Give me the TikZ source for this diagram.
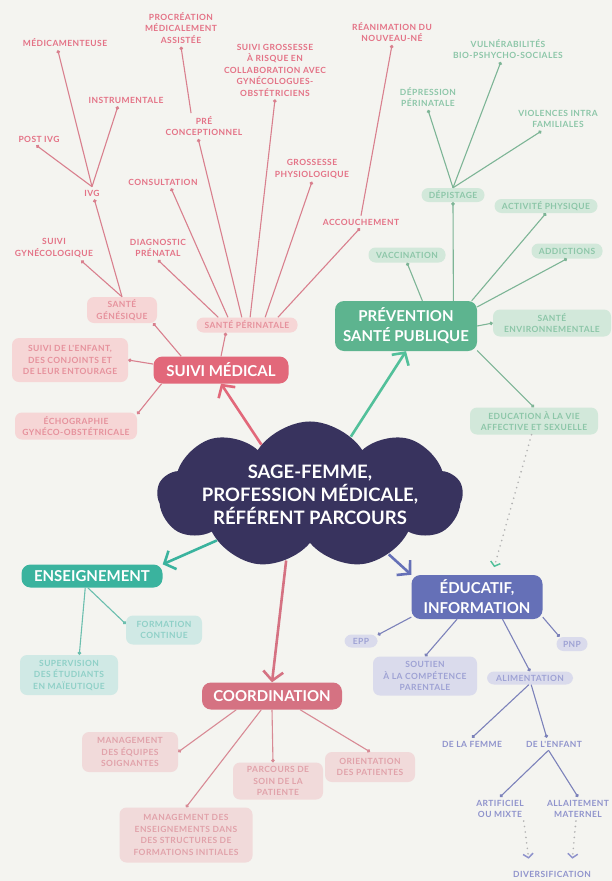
\documentclass[tikz,border=0pt]{standalone}
\usepackage{fontspec}
\setmainfont{Lato}
\newfontfamily\labelfont{Lato}[LetterSpace=5]
\usetikzlibrary{shapes.symbols, arrows.meta}

\definecolor{fond}{HTML}{F4F4F0}
\definecolor{navy}{HTML}{38335E}
\definecolor{rose}{HTML}{E2687A}
\definecolor{roselight}{HTML}{F6D6D6}
\definecolor{rosetext}{HTML}{E6919C}
\definecolor{roselabel}{HTML}{E47286}
\definecolor{roseline}{HTML}{D9808E}
\definecolor{vert}{HTML}{5DB48F}
\definecolor{vertarrow}{HTML}{52C09A}
\definecolor{vertlight}{HTML}{D2E8DA}
\definecolor{verttext}{HTML}{8CC6A8}
\definecolor{vertline}{HTML}{7DB596}
\definecolor{sarcelle}{HTML}{3AB39E}
\definecolor{sarcellelight}{HTML}{D0E9E5}
\definecolor{sarcelletext}{HTML}{8FD0C7}
\definecolor{sarcelleline}{HTML}{6CBFAF}
\definecolor{indigo}{HTML}{6570B7}
\definecolor{indigolight}{HTML}{DADBEC}
\definecolor{indigotext}{HTML}{9EA2D4}
\definecolor{indigolabel}{HTML}{8F93CC}
\definecolor{indigoline}{HTML}{7C82BA}
\definecolor{coordfill}{HTML}{D57282}
\definecolor{coordlight}{HTML}{F1DADA}
\definecolor{coordtext}{HTML}{E1A2AA}
\definecolor{coordline}{HTML}{D88A95}

\begin{document}
\begin{tikzpicture}[x=1pt, y=-1pt]
  \tikzset{
    main_node/.style={rounded corners=9pt, text=white, font=\bfseries\fontsize{15}{20}\selectfont, align=center, inner sep=0pt},
    leaf_box/.style={rounded corners=7pt, font=\labelfont\bfseries\fontsize{8.5}{11.5}\selectfont, align=center, inner sep=0pt},
    leaf_label/.style={font=\labelfont\bfseries\fontsize{8.5}{11.5}\selectfont, align=center, inner sep=3pt},
    pink_main/.style={main_node, fill=rose},
    pink_box/.style={leaf_box, fill=roselight, text=rosetext},
    pink_label/.style={leaf_label, text=roselabel},
    pink_link/.style={draw=roseline, line width=1.1pt, -{Circle[length=3.5pt]}},
    green_main/.style={main_node, fill=vert},
    green_box/.style={leaf_box, fill=vertlight, text=verttext},
    green_label/.style={leaf_label, text=verttext},
    green_link/.style={draw=vertline, line width=1.1pt, -{Circle[length=3.5pt]}},
    teal_main/.style={main_node, fill=sarcelle},
    teal_box/.style={leaf_box, fill=sarcellelight, text=sarcelletext},
    teal_link/.style={draw=sarcelleline, line width=1.1pt, -{Circle[length=3.5pt]}},
    indigo_main/.style={main_node, fill=indigo},
    indigo_box/.style={leaf_box, fill=indigolight, text=indigotext},
    indigo_label/.style={leaf_label, text=indigolabel},
    indigo_link/.style={draw=indigoline, line width=1.1pt, -{Circle[length=3.5pt]}},
    coord_main/.style={main_node, fill=coordfill},
    coord_box/.style={leaf_box, fill=coordlight, text=coordtext},
    coord_link/.style={draw=coordline, line width=1.1pt, -{Circle[length=3.5pt]}},
    big_arrow/.style={line width=2.6pt, -{Straight Barb[length=9pt, width=20pt]}},
    dot_arrow/.style={draw=gray!60, line width=1.8pt, line cap=round, dash pattern=on 0pt off 5.5pt}
  }

  % Fond et cadre
  \useasboundingbox (0,0) rectangle (612,881);
  \fill[fond] (0,0) rectangle (612,881);

  % Nuage central
  \node[cloud, cloud puffs=9, cloud puff arc=115, aspect=3.2, fill=navy, text=white, inner sep=0pt,
        font=\bfseries\fontsize{18.5}{23}\selectfont, align=center] (core) at (310,495)
        {SAGE-FEMME,\\PROFESSION MÉDICALE,\\RÉFÉRENT PARCOURS};

  % Suivi médical
  \node[pink_main, minimum width=135, minimum height=27] (smed) at (221,370) {SUIVI MÉDICAL};
  \node[pink_box, minimum width=101, minimum height=15] (sperin) at (247,325) {SANTÉ PÉRINATALE};
  \node[pink_box, minimum width=70, minimum height=26] (sgenes) at (122,310) {SANTÉ\\GÉNÉSIQUE};
  \node[pink_box, minimum width=116, minimum height=44] (senfant) at (70,360) {SUIVI DE L'ENFANT,\\DES CONJOINTS ET\\DE LEUR ENTOURAGE};
  \node[pink_box, minimum width=122, minimum height=27] (echo) at (76,426) {ÉCHOGRAPHIE\\GYNÉCO-OBSTÉTRICALE};

  \node[pink_label] (sgyn) at (54,248) {SUIVI\\GYNÉCOLOGIQUE};
  \node[pink_label] (ivg) at (92,193) {IVG};
  \node[pink_label] (medic) at (65,43) {MÉDICAMENTEUSE};
  \node[pink_label] (instr) at (126,100) {INSTRUMENTALE};
  \node[pink_label] (postivg) at (39,139) {POST IVG};
  \node[pink_label] (diag) at (158,248) {DIAGNOSTIC\\PRÉNATAL};
  \node[pink_label] (consult) at (163,182) {CONSULTATION};
  \node[pink_label] (precon) at (204,126) {PRÉ\\CONCEPTIONNEL};
  \node[pink_label] (pma) at (181,28) {PROCRÉATION\\MÉDICALEMENT\\ASSISTÉE};
  \node[pink_label] (grisque) at (275,70) {SUIVI GROSSESSE\\À RISQUE EN\\COLLABORATION AVEC\\GYNÉCOLOGUES-\\OBSTÉTRICIENS};
  \node[pink_label] (gphysio) at (312,169) {GROSSESSE\\PHYSIOLOGIQUE};
  \node[pink_label] (accouch) at (361,222) {ACCOUCHEMENT};
  \node[pink_label] (reanim) at (392,32) {RÉANIMATION DU\\NOUVEAU-NÉ};

  \draw[big_arrow, rose] (core.134) -- (smed.south);
  \draw[pink_link] (smed.north) -- (sperin.200);
  \draw[pink_link] (smed.161) -- (sgenes.-23);
  \draw[pink_link] (smed.175) -- (senfant.east);
  \draw[pink_link] (smed.193) -- (echo.11);
  \draw[pink_link] (sgenes.north) -- (sgyn.-25);
  \draw[pink_link] (sgenes.north) -- (ivg.-70);
  \draw[pink_link] (ivg.north) -- (medic.-135);
  \draw[pink_link] (ivg.north) -- (instr.-142);
  \draw[pink_link] (ivg.north) -- (postivg.-113);
  \draw[pink_link] (sperin.165) -- (diag.south);
  \draw[pink_link] (sperin.158) -- (consult.-38);
  \draw[pink_link] (sperin.124) -- (precon.-114);
  \draw[pink_link] (precon.135) -- (pma.south);
  \draw[pink_link] (sperin.68) -- (grisque.south);
  \draw[pink_link] (sperin.23) -- (gphysio.south);
  \draw[pink_link] (sperin.14) -- (accouch.-100);
  \draw[pink_link] (accouch.north) -- (reanim.south);

  % Prévention santé publique
  \node[green_main, minimum width=142, minimum height=50] (prev) at (406,326) {PRÉVENTION\\SANTÉ PUBLIQUE};
  \node[green_box, minimum width=63, minimum height=14] (depist) at (453,195) {DÉPISTAGE};
  \node[green_label] (depress) at (428,97) {DÉPRESSION\\PÉRINATALE};
  \node[green_label] (vulner) at (508,49) {VULNÉRABILITÉS\\BIO-PSHYCHO-SOCIALES};
  \node[green_label] (violence) at (558,119) {VIOLENCES INTRA\\FAMILIALES};
  \node[green_box, minimum width=103, minimum height=14] (activ) at (546,206) {ACTIVITÉ PHYSIQUE};
  \node[green_box, minimum width=71, minimum height=15] (addict) at (567,251) {ADDICTIONS};
  \node[green_box, minimum width=77, minimum height=15] (vacc) at (407,255) {VACCINATION};
  \node[green_box, minimum width=118, minimum height=27] (senv) at (552,323) {SANTÉ\\ENVIRONNEMENTALE};
  \node[green_box, minimum width=128, minimum height=27] (eduvie) at (534,421) {EDUCATION À LA VIE\\AFFECTIVE ET SEXUELLE};

  \draw[big_arrow, vertarrow] (core.55) -- (prev.south);
  \draw[green_link] (prev.28) -- (depist.south);
  \draw[green_link] (depist.north) -- (depress.south);
  \draw[green_link] (depist.north) -- (vulner.-119);
  \draw[green_link] (depist.north) -- (violence.-144);
  \draw[green_link] (prev.21) -- (activ.south);
  \draw[green_link] (prev.15) -- (addict.south);
  \draw[green_link] (prev.57) -- (vacc.south);
  \draw[green_link] (prev.east) -- (senv.west);
  \draw[green_link] (prev.-19) -- (eduvie.north);

  % Enseignement
  \node[teal_main, minimum width=141, minimum height=23] (ens) at (92,576) {ENSEIGNEMENT};
  \node[teal_box, minimum width=76, minimum height=29] (form) at (164,630) {FORMATION\\CONTINUE};
  \node[teal_box, minimum width=98, minimum height=40] (superv) at (69,675) {SUPERVISION\\DES ÉTUDIANTS\\EN MAÏEUTIQUE};

  \draw[big_arrow, sarcelle] (core.206) -- (ens.north east);
  \draw[teal_link] (ens.-110) -- (form.171);
  \draw[teal_link] (ens.-120) -- (superv.63);

  % Éducatif, information
  \node[indigo_main, minimum width=131, minimum height=44] (educ) at (477,597) {ÉDUCATIF,\\INFORMATION};
  \node[indigo_box, minimum width=33, minimum height=13] (epp) at (361,641) {EPP};
  \node[indigo_box, minimum width=31, minimum height=14] (pnp) at (572,644) {PNP};
  \node[indigo_box, minimum width=104, minimum height=39] (soutien) at (425,676) {SOUTIEN\\À LA COMPÉTENCE\\PARENTALE};
  \node[indigo_box, minimum width=86, minimum height=13] (alim) at (530,678) {ALIMENTATION};
  \node[indigo_label] (femme) at (472,744) {DE LA FEMME};
  \node[indigo_label] (enfant) at (554,744) {DE L'ENFANT};
  \node[indigo_label] (artif) at (500,809) {ARTIFICIEL\\OU MIXTE};
  \node[indigo_label] (allait) at (578,809) {ALLAITEMENT\\MATERNEL};
  \node[indigo_label] (divers) at (552,874) {DIVERSIFICATION};

  \draw[dot_arrow, -{Straight Barb[length=4pt, width=10pt, color=vertarrow, line width=1.5pt]}, shorten >=8pt]
    (eduvie.-100) -- (educ.56);
  \draw[big_arrow, indigo] (core.-37) -- (educ.north west);
  \draw[indigo_link] (educ.197) -- (epp.20);
  \draw[indigo_link] (educ.-17) -- (pnp.150);
  \draw[indigo_link] (educ.-132) -- (soutien.north);
  \draw[indigo_link] (educ.-41) -- (alim.north);
  \draw[indigo_link] (alim.-100) -- (femme.north);
  \draw[indigo_link] (alim.-80) -- (enfant.139);
  \draw[indigo_link] (enfant.-131) -- (artif.north);
  \draw[indigo_link] (enfant.-131) -- (allait.north);
  \draw[dot_arrow, -{Straight Barb[length=4pt, width=10pt, color=indigolabel, line width=1.5pt]}, shorten >=9pt]
    (artif.-27) -- (divers.164);
  \draw[dot_arrow, -{Straight Barb[length=4pt, width=10pt, color=indigolabel, line width=1.5pt]}, shorten >=9pt]
    (allait.-100) -- (divers.18);

  % Coordination
  \node[coord_main, minimum width=140, minimum height=27] (coord) at (272,696) {COORDINATION};
  \node[coord_box, minimum width=96, minimum height=40] (mgeq) at (130,752) {MANAGEMENT\\DES ÉQUIPES\\SOIGNANTES};
  \node[coord_box, minimum width=133, minimum height=55] (mgens) at (186,835) {MANAGEMENT DES\\ENSEIGNEMENTS DANS\\DES STRUCTURES DE\\FORMATIONS INITIALES};
  \node[coord_box, minimum width=90, minimum height=37] (parc) at (278,781) {PARCOURS DE\\SOIN DE LA\\PATIENTE};
  \node[coord_box, minimum width=90, minimum height=30] (orient) at (370,767) {ORIENTATION\\DES PATIENTES};

  \draw[big_arrow, coordfill] (core.-110) -- (coord.north);
  \draw[coord_link] (coord.-159) -- (mgeq.east);
  \draw[coord_link] (coord.-128) -- (mgens.north);
  \draw[coord_link] (coord.south) -- (parc.105);
  \draw[coord_link] (coord.-26) -- (orient.north);
\end{tikzpicture}
\end{document}
